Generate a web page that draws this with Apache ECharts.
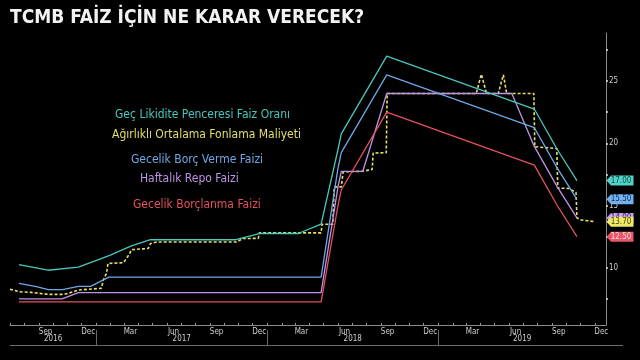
<!DOCTYPE html>
<html><head><meta charset="utf-8">
<script src="https://cdn.jsdelivr.net/npm/echarts@6/dist/echarts.min.js"></script>
<style>html,body{margin:0;padding:0;background:#000;}#c{width:640px;height:360px;}</style>
</head><body><div id="c"></div>
<script>
// ---- data (dates, %) ----
const lateLiquidity = [
  ['2016-07-20',10.25],['2016-09-20',9.8],['2016-11-24',10.05],['2017-01-30',11.0],
  ['2017-03-17',11.75],['2017-04-27',12.25],['2017-10-26',12.25],['2017-12-15',12.75],
  ['2018-03-08',12.75],['2018-04-26',13.5],['2018-06-01',19.5],['2018-06-08',20.75],
  ['2018-09-13',27.0],['2019-07-25',22.75],['2019-09-12',19.5],['2019-10-24',17.0]
];
const fundingCost = [
  ['2016-07-01',8.27],['2016-07-22',8.07],['2016-08-15',8.02],['2016-09-22',7.86],
  ['2016-10-20',7.86],['2016-10-31',7.92],['2016-11-24',8.21],['2016-11-28',8.35],
  ['2017-01-12',8.35],['2017-01-16',9.0],['2017-01-23',9.55],['2017-01-26',10.35],
  ['2017-02-28',10.4],['2017-03-13',11.1],['2017-03-17',11.45],['2017-04-22',11.55],
  ['2017-04-27',11.95],['2017-05-10',12.07],['2017-10-28',12.07],['2017-11-10',12.35],
  ['2017-12-13',12.36],['2017-12-15',12.8],['2018-04-26',12.8],['2018-04-28',13.5],
  ['2018-05-21',13.5],['2018-05-24',16.5],['2018-06-08',16.5],['2018-06-12',17.7],
  ['2018-07-24',17.75],['2018-08-13',17.9],['2018-08-15',19.22],['2018-09-12',19.24],
  ['2018-09-14',24.0],['2019-03-23',24.0],['2019-04-03',25.55],['2019-04-14',24.0],
  ['2019-05-09',24.0],['2019-05-20',25.5],['2019-05-27',24.0],['2019-07-24',24.0],
  ['2019-07-26',19.72],['2019-09-11',19.58],['2019-09-13',16.4],['2019-10-07',16.37],
  ['2019-10-22',16.05],['2019-10-24',14.0],['2019-11-01',13.85],['2019-12-01',13.7]
];
const lendingRate = [
  ['2016-07-20',8.75],['2016-08-24',8.5],['2016-09-21',8.25],['2016-10-21',8.25],
  ['2016-11-24',8.5],['2016-12-20',8.5],['2017-01-28',9.25],['2018-04-26',9.25],
  ['2018-06-01',18.0],['2018-06-08',19.25],['2018-09-13',25.5],['2019-07-25',21.25],
  ['2019-09-12',18.0],['2019-10-24',15.5]
];
const repoRate = [
  ['2016-07-20',7.5],['2016-10-20',7.5],['2016-11-24',8.0],['2018-04-26',8.0],
  ['2018-06-01',16.5],['2018-06-08',17.75],['2018-07-24',17.75],['2018-09-13',24.0],
  ['2019-06-07',24.0],['2019-07-25',19.75],['2019-09-12',16.5],['2019-10-24',14.0]
];
const borrowingRate = [
  ['2016-07-20',7.25],['2018-04-26',7.25],['2018-06-01',15.0],['2018-06-08',16.25],
  ['2018-09-13',22.5],['2019-07-25',18.25],['2019-09-12',15.0],['2019-10-24',12.5]
];
const seriesNames = ['Geç Likidite Penceresi Faiz Oranı','Ağırlıklı Ortalama Fonlama Maliyeti',
  'Gecelik Borç Verme Faizi','Haftalık Repo Faizi','Gecelik Borçlanma Faizi'];
const quarterLabels = ['2016-09','2016-12','2017-03','2017-06','2017-09','2017-12','2018-03',
  '2018-06','2018-09','2018-12','2019-03','2019-06','2019-09','2019-12'];
const monthNames = ['Jan','Feb','Mar','Apr','May','Jun','Jul','Aug','Sep','Oct','Nov','Dec'];
const yearLabels = [2016,2017,2018,2019];
const yLabelValues = [10,15,20,25];
const yTickValues = [7.5,10,12.5,15,17.5,20,22.5,25,27.5];

// ---- helpers ----
function T(s){const p=s.split('-');return new Date(+p[0],+p[1]-1,+(p[2]||1)).getTime();}
const xMin = T('2016-07-01'), xMax = T('2019-12-25');
const monthTicks = [];
for (let y=2016;y<=2019;y++) for (let m=0;m<12;m++){const t=new Date(y,m,1).getTime(); if(t>=xMin&&t<=xMax) monthTicks.push(t);}
const labelVals = quarterLabels.map(q=>T(q+'-15'));
const yearTicks = yearLabels.slice(1).map(y=>new Date(y,0,1).getTime());
const yearCenters = yearLabels.map(y=>{const a=Math.max(xMin,new Date(y,0,1).getTime());const b=Math.min(xMax,new Date(y+1,0,1).getTime());return (a+b)/2;});

const FONT = "'DejaVu Sans Condensed','Liberation Sans Narrow','DejaVu Sans',sans-serif";
const cols = ['#48c7bf','#e6df6a','#6ea8e4','#bf93e6','#e2525e'];
const tagBg = ['#52d2c8','#eee86a','#72b0ee','#c79ef0','#e8566a'];
const tagTxt = ['#0b4a45','#4a4500','#0d2d55','#3a1a55','#ffd8dc'];
const datasets = [lateLiquidity, fundingCost, lendingRate, repoRate, borrowingRate];
const zs = [3,1,3,2,3];
const tagZ = [6,7,6,5,6];

const series = datasets.map((d,i)=>{
  const last = d[d.length-1][1];
  return {
    name: seriesNames[i], type:'line', data: d.map(p=>[T(p[0]),p[1]]),
    symbol:'none', z: zs[i],
    lineStyle:{color:cols[i], width: i===1?1.6:1.3, type: i===1?[3,2]:'solid'},
    markPoint:{
      z: tagZ[i], silent:true,
      symbol:'path://M0,5L5,0L30,0L30,10L5,10Z', symbolKeepAspect:false,
      symbolSize:[27,10], symbolOffset:[14,0],
      itemStyle:{color:tagBg[i]},
      label:{show:true, position:'inside', offset:[1,0], color:tagTxt[i], fontSize:8, fontFamily:FONT,
        formatter:p=>Number(p.value).toFixed(2)},
      data:[{coord:[xMax,last], value:last}]
    }
  };
});

const legendPos = [[115,115],[112,135],[131,160],[140,179],[133,205]];
const graphics = seriesNames.map((n,i)=>({
  type:'text', x:legendPos[i][0], y:legendPos[i][1], silent:true,
  style:{text:n, fill:cols[i], font:'12px '+FONT, verticalAlign:'middle', align:'left'}
}));
graphics.push({type:'text', x:10, y:18, style:{text:'TCMB FAİZ İÇİN NE KARAR VERECEK?', fill:'#f2f2f2',
  font:'bold 19px '+FONT, verticalAlign:'middle', align:'left'}});
graphics.push({type:'line', silent:true, shape:{x1:606, y1:345.5, x2:623, y2:345.5}, style:{stroke:'#6a6a6a', lineWidth:1}});

const chart = echarts.init(document.getElementById('c'), null, {renderer:'canvas'});
chart.setOption({
  animation:false, backgroundColor:'#000',
  grid:{left:10, right:34, top:33, bottom:35},
  xAxis:[{
    type:'value', min:xMin, max:xMax, splitLine:{show:false},
    axisLine:{lineStyle:{color:'#8a8a8a'}},
    axisTick:{show:true, customValues:monthTicks, inside:true, length:2, lineStyle:{color:'#9a9a9a'}},
    axisLabel:{customValues:labelVals, margin:3, fontSize:8, color:'#cfcfcf', fontFamily:FONT,
      formatter:v=>monthNames[new Date(v).getMonth()], hideOverlap:false, showMinLabel:true, showMaxLabel:true}
  },{
    type:'value', min:xMin, max:xMax, position:'bottom', offset:20, splitLine:{show:false},
    axisLine:{lineStyle:{color:'#6a6a6a'}},
    axisTick:{show:true, customValues:yearTicks, inside:true, length:15, lineStyle:{color:'#6a6a6a'}},
    axisLabel:{customValues:yearCenters, inside:true, margin:2, fontSize:8, color:'#cfcfcf', fontFamily:FONT,
      formatter:v=>String(new Date(v).getFullYear()), hideOverlap:false}
  }],
  yAxis:{
    type:'value', position:'right', min:5.4, max:28.86, splitLine:{show:false},
    axisLine:{show:true, lineStyle:{color:'#8a8a8a'}},
    axisTick:{show:true, customValues:yTickValues, length:2, lineStyle:{color:'#e0e0e0', width:1.5}},
    axisLabel:{customValues:yLabelValues, margin:3, fontSize:8, color:'#cfcfcf', fontFamily:FONT}
  },
  series: series,
  graphic: graphics
});
</script></body></html>
